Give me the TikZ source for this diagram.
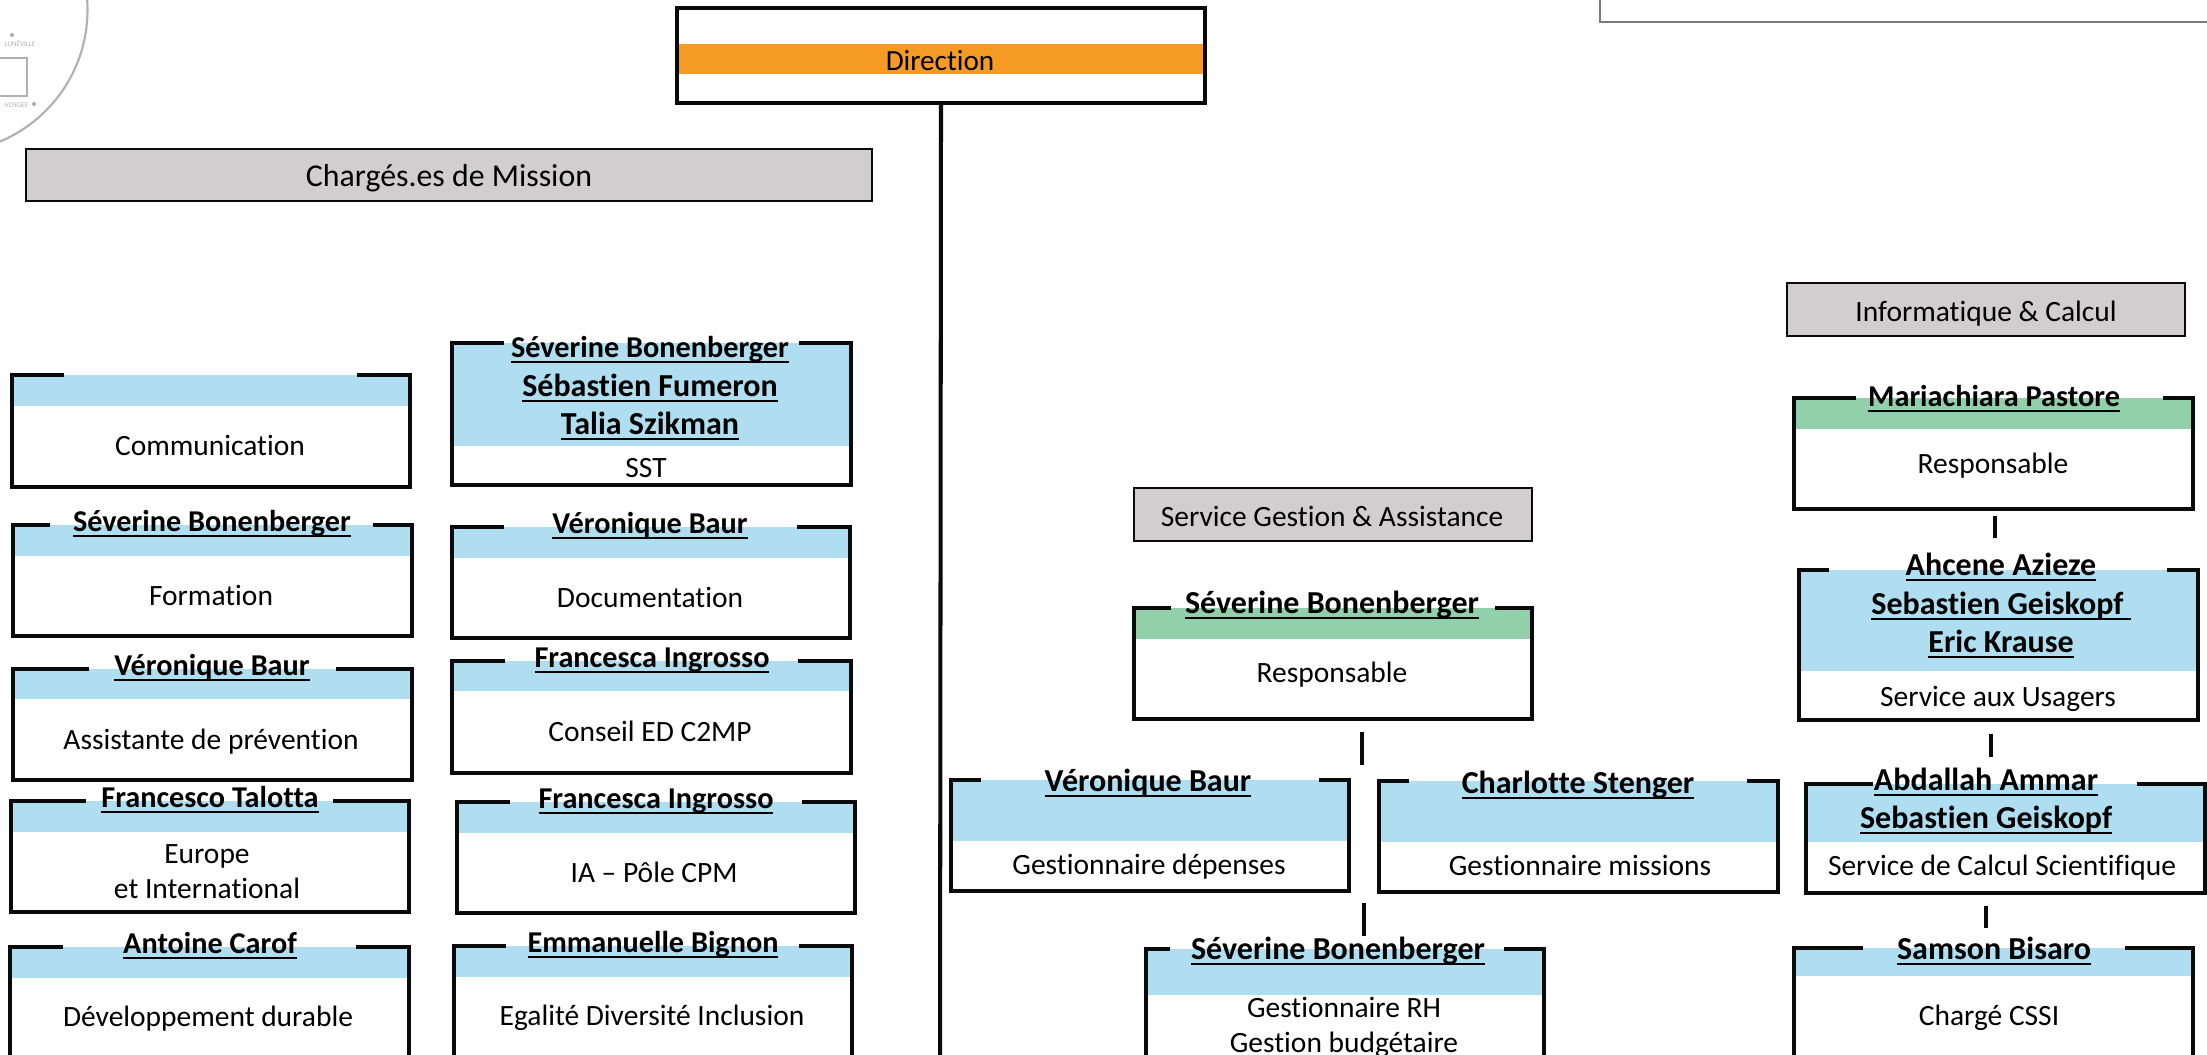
\documentclass[tikz,border=0pt]{standalone}
\usepackage{fontspec}
\setmainfont{Carlito}[Ligatures=NoCommon]
\usetikzlibrary{fit}
\definecolor{bandblue}{HTML}{AEDEEF}
\definecolor{bandgreen}{HTML}{91D0AA}
\definecolor{bandorange}{HTML}{F59A23}
\definecolor{headgrey}{HTML}{D0CECE}
\definecolor{inkline}{HTML}{0A0A0A}
\definecolor{logogrey}{HTML}{B0B0B0}
\newcommand\ulname[1]{\leavevmode\vtop{\hbox{\strut#1}\kern-2.05pt\hrule height 0.7pt}}
\tikzset{
  x=0.01cm,y=-0.01cm,
  frameline/.style={draw=inkline,line width=0.95pt,line cap=butt,line join=miter},
  conn/.style={draw=inkline,line width=1.15pt},
  headbox/.style={fill=headgrey,draw=inkline,line width=0.75pt},
  holder/.style={inner sep=0pt,outer sep=0pt},
  subtext/.style={font=\fontsize{8.38pt}{10pt}\selectfont,inner sep=0pt,anchor=base,text=black},
  headtext/.style={subtext},
  nametext/.style={font=\fontsize{8.6pt}{10pt}\selectfont\bfseries,inner sep=0pt,anchor=base,text=black},
  bigname/.style={nametext,font=\fontsize{9.1pt}{10pt}\selectfont\bfseries},
  logotext/.style={font=\fontsize{2pt}{2.4pt}\selectfont,inner sep=0pt,text=logogrey},
  logodot/.style={fill=logogrey,circle,inner sep=0pt,minimum size=1.2pt},
}
% id x1 y1 x2 y2 bandbottom seg1end seg2start colour
\newcommand\orgbox[9]{%
  \fill[#9] (#2,#3) rectangle (#4,#6);
  \draw[frameline] (#7,#3) -- (#2,#3) -- (#2,#5) -- (#4,#5) -- (#4,#3) -- (#8,#3);
  \coordinate (#1-a) at (#2,#3);
  \coordinate (#1-b) at (#4,#5);
  \node[fit=(#1-a)(#1-b),holder] (#1) {};
}
\newcommand\nm[4]{\node[nametext] (#1) at (#2,#3+10.5) {\ulname{#4}};}
\newcommand\bignm[4]{\node[bigname] (#1) at (#2,#3+10.5) {\ulname{#4}};}
\newcommand\sub[4]{\node[subtext] (#1) at (#2,#3+9) {#4};}
\newcommand\hd[8]{% id x1 y1 x2 y2 tx ty text
  \coordinate (#1-a) at (#2,#3);
  \coordinate (#1-b) at (#4,#5);
  \node[fit=(#1-a)(#1-b),holder,headbox] (#1) {};
  \node[headtext] (#1-t) at (#6,#7+9) {#8};
}
\newcommand\tick[4]{% id x y1 y2
  \coordinate (#1-s) at (#2,#3);
  \coordinate (#1-e) at (#2,#4);
  \draw[conn] (#1-s) -- (#1-e);
}
\begin{document}
\begin{tikzpicture}
\useasboundingbox (0,0) rectangle (2207,1055);
\clip (0,0) rectangle (2207,1055);
\fill[white] (0,0) rectangle (2207,1055);

% logo
\draw[logogrey,line width=0.6pt] (-55,10) circle [radius=142.5];
\draw[logogrey,line width=0.3pt] (0,58) -- (27,58) -- (27,96) -- (0,96);
\node[logodot] (logodotA) at (12,35) {};
\node[logodot] (logodotB) at (34,104) {};
\node[logotext] (logoA) at (20,44) {LUNÉVILLE};
\node[logotext,anchor=west] (logoB) at (2,105) {-VOSGES};

% top-right frame
\draw[draw=black!52,line width=0.7pt] (1600,-5) -- (1600,22) -- (2215,22);

% direction
\coordinate (dir-a) at (677,8);
\coordinate (dir-b) at (1205,103);
\node[fit=(dir-a)(dir-b),holder,fill=white] (direction) {};
\fill[bandorange] (677,44) rectangle (1205,74);
\draw[frameline,line width=1.15pt] (677,8) rectangle (1205,103);
\node[subtext,font=\fontsize{8.3pt}{10pt}\selectfont] (direction-t) at (940,62+9) {Direction};
\coordinate (spineend) at (940,1070);
\draw[conn] (direction.south) -- (spineend);

% heads
\hd{heada}{26}{149}{872}{201}{449}{178}{\fontsize{9.05pt}{11pt}\selectfont Chargés.es de Mission}
\hd{headb}{1134}{488}{1532}{541}{1332}{517}{Service Gestion \& Assistance}
\hd{headc}{1787}{283}{2185}{336}{1986}{313}{Informatique \& Calcul}

% left column 1
\orgbox{comm}{12}{375}{410}{487}{406}{64}{357}{bandblue}
\sub{comm-s}{210}{446}{Communication}

\orgbox{form}{13}{525}{412}{636}{556}{50}{373}{bandblue}
\nm{form-n}{212}{521}{Séverine Bonenberger}
\sub{form-s}{211}{596}{Formation}

\orgbox{assi}{13}{669}{412}{780}{699}{89}{336}{bandblue}
\nm{assi-n}{212}{665}{Véronique Baur}
\sub{assi-s}{211}{740}{Assistante de prévention}

\orgbox{euro}{11}{801}{409}{912}{832}{86}{333}{bandblue}
\nm{euro-n}{210}{797}{Francesco Talotta}
\sub{euro-s}{207}{854}{Europe}
\sub{euro-t}{207}{889}{et International}

\orgbox{deve}{10}{947}{409}{1075}{978}{63}{356}{bandblue}
\nm{deve-n}{210}{943}{Antoine Carof}
\sub{deve-s}{208}{1017}{Développement durable}

% left column 2
\orgbox{sst}{452}{343}{851}{485}{446}{504}{799}{bandblue}
\nm{sst-n}{650}{347}{Séverine Bonenberger}
\bignm{sst-o}{650}{386}{Sébastien Fumeron}
\bignm{sst-p}{650}{424}{Talia Szikman}
\sub{sst-s}{646}{468}{SST}

\orgbox{docu}{452}{527}{850}{638}{558}{504}{797}{bandblue}
\nm{docu-n}{650}{523}{Véronique Baur}
\sub{docu-s}{650}{598}{Documentation}

\orgbox{cons}{452}{661}{851}{773}{691}{505}{798}{bandblue}
\nm{cons-n}{652}{657}{Francesca Ingrosso}
\sub{cons-s}{650}{732}{Conseil ED C2MP}

\orgbox{iapo}{457}{802}{855}{913}{833}{510}{802}{bandblue}
\nm{iapo-n}{656}{798}{Francesca Ingrosso}
\sub{iapo-s}{654}{873}{IA – Pôle CPM}

\orgbox{egal}{454}{946}{852}{1075}{977}{506}{799}{bandblue}
\nm{egal-n}{653}{942}{Emmanuelle Bignon}
\sub{egal-s}{652}{1016}{Egalité Diversité Inclusion}

% centre
\orgbox{gest}{1134}{608}{1532}{719}{639}{1171}{1495}{bandgreen}
\bignm{gest-n}{1332}{603}{Séverine Bonenberger}
\sub{gest-s}{1332}{673}{Responsable}

\tick{tickA}{1362}{732}{765}

\orgbox{depe}{951}{780}{1349}{891}{841}{981}{1319}{bandblue}
\bignm{depe-n}{1148}{781}{Véronique Baur}
\sub{depe-s}{1149}{865}{Gestionnaire dépenses}

\orgbox{miss}{1379}{781}{1778}{892}{842}{1409}{1747}{bandblue}
\bignm{miss-n}{1578}{783}{Charlotte Stenger}
\sub{miss-s}{1580}{866}{Gestionnaire missions}

\tick{tickB}{1364}{903}{936}

\orgbox{rhge}{1146}{949}{1544}{1075}{995}{1170}{1504}{bandblue}
\bignm{rhge-n}{1338}{949}{Séverine Bonenberger}
\sub{rhge-s}{1344}{1008}{Gestionnaire RH}
\sub{rhge-t}{1344}{1043}{Gestion budgétaire}

% right
\orgbox{inre}{1794}{398}{2193}{509}{429}{1856}{2163}{bandgreen}
\nm{inre-n}{1994}{396}{Mariachiara Pastore}
\sub{inre-s}{1993}{464}{Responsable}

\tick{tickC}{1995}{516}{538}

\orgbox{usag}{1799}{570}{2198}{720}{671}{1829}{2167}{bandblue}
\bignm{usag-n}{2001}{565}{Ahcene Azieze}
\bignm{usag-o}{2001}{604}{Sebastien Geiskopf\ }
\bignm{usag-p}{2001}{642}{Eric Krause}
\sub{usag-s}{1998}{697}{Service aux Usagers}

\tick{tickD}{1991}{734}{757}

\orgbox{calc}{1806}{784}{2205}{893}{842}{1873}{2137}{bandblue}
\bignm{calc-n}{1986}{780}{Abdallah Ammar}
\bignm{calc-o}{1986}{818}{Sebastien Geiskopf}
\sub{calc-s}{2002}{866}{Service de Calcul Scientifique}

\tick{tickE}{1986}{906}{928}

\orgbox{cssi}{1794}{948}{2193}{1075}{976}{1863}{2125}{bandblue}
\bignm{cssi-n}{1994}{949}{Samson Bisaro}
\sub{cssi-s}{1989}{1016}{Chargé CSSI}
\end{tikzpicture}
\end{document}
